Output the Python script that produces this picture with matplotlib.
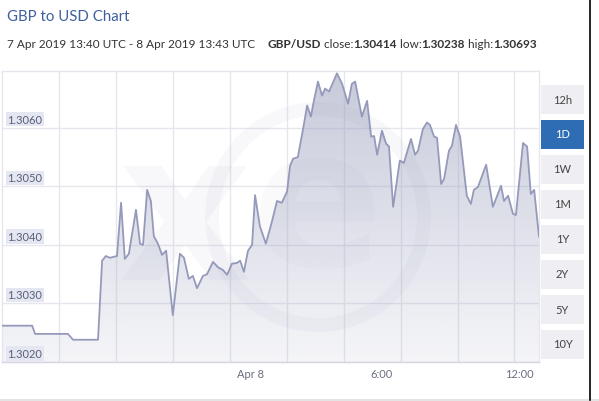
import matplotlib
matplotlib.use("Agg")
import matplotlib.pyplot as plt
import matplotlib.transforms as mtransforms
from matplotlib.patches import Rectangle, Ellipse, Polygon
import numpy as np
from datetime import datetime, timedelta
import matplotlib.dates as mdates

# ---------------- data ----------------
minutes = [0, 81, 89, 177, 191, 258, 269, 279, 290, 309, 320, 330, 341, 360, 371, 379,
           390, 400, 408, 419, 430, 441, 459, 478, 489, 502, 513, 524, 540, 551, 567,
           580, 594, 605, 618, 631, 640, 650, 661, 672, 680, 693, 709, 725, 739, 752,
           766, 774, 782, 795, 809, 820, 830, 838, 849, 860, 868, 879, 900, 914, 930,
           940, 949, 967, 981, 992, 1000, 1008, 1021, 1032, 1040, 1051, 1069, 1080,
           1099, 1110, 1118, 1131, 1142, 1150, 1161, 1169, 1180, 1188, 1201, 1209,
           1220, 1231, 1249, 1260, 1268, 1279, 1301, 1319, 1341, 1349, 1360, 1373,
           1381, 1400, 1411, 1421, 1430, 1443]
rates = [1.30262, 1.30262, 1.30248, 1.30248, 1.30238, 1.30238, 1.30373, 1.30381,
         1.30378, 1.30381, 1.30472, 1.30376, 1.30385, 1.30460, 1.30402, 1.30400,
         1.30494, 1.30475, 1.30415, 1.30402, 1.30383, 1.30390, 1.30280, 1.30385,
         1.30378, 1.30342, 1.30347, 1.30326, 1.30347, 1.30350, 1.30371, 1.30362,
         1.30357, 1.30349, 1.30368, 1.30369, 1.30373, 1.30354, 1.30390, 1.30400,
         1.30485, 1.30432, 1.30402, 1.30439, 1.30475, 1.30472, 1.30491, 1.30535,
         1.30547, 1.30550, 1.30598, 1.30638, 1.30619, 1.30646, 1.30679, 1.30655,
         1.30667, 1.30662, 1.30693, 1.30675, 1.30641, 1.30675, 1.30679, 1.30619,
         1.30646, 1.30585, 1.30586, 1.30554, 1.30595, 1.30573, 1.30568, 1.30465,
         1.30544, 1.30540, 1.30581, 1.30554, 1.30561, 1.30598, 1.30609, 1.30605,
         1.30585, 1.30583, 1.30504, 1.30513, 1.30561, 1.30569, 1.30605, 1.30585,
         1.30484, 1.30470, 1.30494, 1.30499, 1.30537, 1.30465, 1.30501, 1.30475,
         1.30484, 1.30453, 1.30451, 1.30574, 1.30568, 1.30487, 1.30494, 1.30414]

start = datetime(2019, 4, 7, 13, 40)
end = datetime(2019, 4, 8, 13, 43)
times = [start + timedelta(minutes=m) for m in minutes]

y_ticks = [1.3020, 1.3030, 1.3040, 1.3050, 1.3060]
y_labels = ["1.3020", "1.3030", "1.3040", "1.3050", "1.3060"]
x_tick_times = [datetime(2019, 4, 8, 0, 0), datetime(2019, 4, 8, 6, 0), datetime(2019, 4, 8, 12, 0)]
x_tick_labels = ["Apr 8", "6:00", "12:00"]
grid_step_minutes = 153
buttons = ["12h", "1D", "1W", "1M", "1Y", "2Y", "5Y", "10Y"]
active_button = "1D"

title = "GBP to USD Chart"
sub_parts = [("7 Apr 2019 13:40 UTC - 8 Apr 2019 13:43 UTC", "normal"),
             ("    ", "normal"),
             ("GBP/USD", "bold"), (" close:", "normal"), ("1.30414", "bold"),
             (" low:", "normal"), ("1.30238", "bold"), (" high:", "normal"),
             ("1.30693", "bold")]

# ---------------- figure ----------------
W, H = 599, 402
FONT = "Lato"
plt.rcParams["font.family"] = [FONT, "DejaVu Sans"]
fig = plt.figure(figsize=(W / 100, H / 100), dpi=100)
fig.patch.set_facecolor("white")

def fx(px):
    return px / W

def fy(py):
    return 1 - py / H

ax_l, ax_r, ax_t, ax_b = 2, 539, 72, 363
ax = fig.add_axes([fx(ax_l), fy(ax_b), (ax_r - ax_l) / W, (ax_b - ax_t) / H])
ax.set_facecolor("white")

xnum = mdates.date2num(times)
x0, x1 = mdates.date2num(start), mdates.date2num(end)
ymin = 1.3020
ymax = 1.30697
ax.set_xlim(x0, x1)
ax.set_ylim(ymin, ymax)

# grid
for yv in y_ticks:
    ax.axhline(yv, color="#e6e7ee", lw=1.0, zorder=0)
k = 1
while start + timedelta(minutes=k * grid_step_minutes) < end:
    ax.axvline(mdates.date2num(start + timedelta(minutes=k * grid_step_minutes)),
               color="#e6e7ee", lw=1.0, zorder=0)
    k += 1

# gradient fill
verts = [(xnum[0], ymin)] + list(zip(xnum, rates)) + [(xnum[-1], ymin)]
poly = Polygon(verts, closed=True, facecolor="none", edgecolor="none")
ax.add_patch(poly)
grad = np.linspace(1, 0, 256).reshape(-1, 1)
base = np.array([0.60, 0.62, 0.74])
alpha_top, alpha_bot = 0.55, 0.10
rgba = np.zeros((256, 1, 4))
rgba[..., :3] = base
rgba[..., 3] = alpha_bot + (alpha_top - alpha_bot) * grad
im = ax.imshow(rgba, extent=[x0, x1, ymin, ymax], aspect="auto", origin="upper",
               zorder=1, interpolation="bilinear")
im.set_clip_path(poly)
ax.plot(xnum, rates, color="#959abb", lw=1.3, zorder=3)

ax.set_xticks([])
ax.set_yticks([])
for s in ["left", "top", "right"]:
    ax.spines[s].set_color("#e6e7ee")
    ax.spines[s].set_linewidth(1.0)
ax.spines["bottom"].set_color("#d4d6e2")
ax.spines["bottom"].set_linewidth(1.0)

# y labels inside plot
trans = mtransforms.blended_transform_factory(ax.transAxes, ax.transData)
for yv, lab in zip(y_ticks, y_labels):
    ax.text(0.010, yv, lab, transform=trans + mtransforms.ScaledTranslation(0, 3 / 100, fig.dpi_scale_trans),
            fontsize=8, color="#5a5f78", va="bottom", ha="left", zorder=5,
            bbox=dict(boxstyle="square,pad=0.15", facecolor="#e4e6f1", edgecolor="none"))

# x labels
for tt, lab in zip(x_tick_times, x_tick_labels):
    ax.text(mdates.date2num(tt), ymin, lab,
            transform=ax.transData + mtransforms.ScaledTranslation(4 / 100, -6 / 100, fig.dpi_scale_trans),
            fontsize=8, color="#6a6e80", va="top", ha="left", clip_on=False)

# watermark (xe logo, very faint)
wm_color = (0.55, 0.57, 0.70)
ring = Ellipse((fx(318), fy(218)), 2 * 106 / W, 2 * 108 / H, transform=fig.transFigure,
               facecolor="none", edgecolor=wm_color, lw=10, alpha=0.06, zorder=10)
fig.add_artist(ring)
fig.text(fx(185), fy(222), "x", fontsize=150, color=wm_color, alpha=0.06,
         ha="center", va="center", fontweight="bold", family="DejaVu Sans")
fig.text(fx(318), fy(212), "e", fontsize=140, color=wm_color, alpha=0.045,
         ha="center", va="center", fontweight="bold", family="DejaVu Sans")

# title & subtitle
fig.text(fx(7), fy(17), title, fontsize=10.8, color="#3f5f9f", va="center", ha="left")
fig.canvas.draw()
renderer = fig.canvas.get_renderer()
xpos = 7
for txt, wt in sub_parts:
    t = fig.text(fx(xpos), fy(45), txt, fontsize=8.5, color="#333333",
                 fontweight=wt, va="center", ha="left")
    bb = t.get_window_extent(renderer=renderer)
    xpos += bb.width

# buttons
bx, bw, bh = 541, 43, 29
for i, b in enumerate(buttons):
    cy = 100 + i * 35
    act = b == active_button
    rect = Rectangle((fx(bx), fy(cy + bh / 2)), bw / W, bh / H, transform=fig.transFigure,
                     facecolor="#2e6db4" if act else "#eeeef3", edgecolor="none")
    fig.add_artist(rect)
    fig.text(fx(bx + bw / 2), fy(cy), b, fontsize=8, color="white" if act else "#444444",
             ha="center", va="center")

# frame lines
fig.add_artist(plt.Line2D([fx(589.5), fx(589.5)], [fy(0), fy(401)], transform=fig.transFigure,
                          color="black", lw=1.2))
fig.add_artist(Rectangle((0, 0), 1, 2 / H, transform=fig.transFigure,
                         facecolor="#e4e4e4", edgecolor="none"))

fig.savefig("out.png", dpi=100, facecolor="white")
